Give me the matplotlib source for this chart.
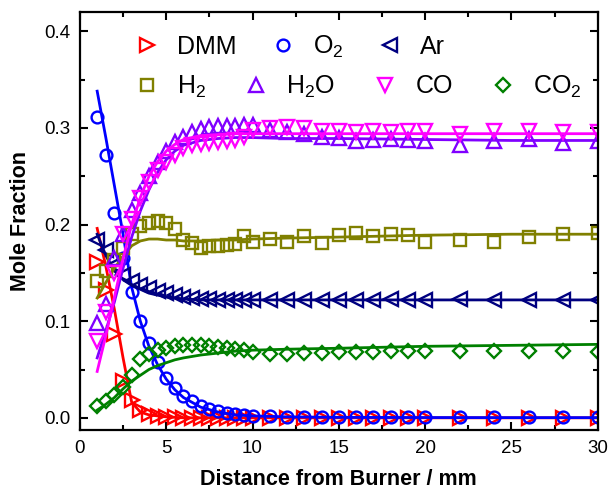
import matplotlib
matplotlib.use('Agg')
import matplotlib.pyplot as plt
from matplotlib.ticker import MultipleLocator

plt.rcParams['font.family'] = ['Liberation Sans', 'DejaVu Sans']
plt.rcParams['mathtext.default'] = 'regular'

# measured points (distance in mm)
x_exp = [1, 1.5, 2, 2.5, 3, 3.5, 4, 4.5, 5, 5.5, 6, 6.5, 7, 7.5, 8, 8.5, 9, 9.5, 10,
         11, 12, 13, 14, 15, 16, 17, 18, 19, 20, 22, 24, 26, 28, 30]
dmm = [0.161, 0.132, 0.087, 0.038, 0.018, 0.008, 0.004, 0.002, 0.001, 0.001, 0.0, 0.0, 0.0, 0.0,
       0.0, 0.0, 0.0, 0.0, 0.0, 0.0, 0.0, 0.0, 0.0, 0.0, 0.0, 0.0, 0.0, 0.0, 0.0,
       0.0, 0.0, 0.0, 0.0, 0.0]
o2 = [0.311, 0.272, 0.212, 0.165, 0.130, 0.100, 0.077, 0.058, 0.041, 0.031, 0.023, 0.017,
      0.012, 0.009, 0.007, 0.005, 0.004, 0.003, 0.002, 0.002, 0.001, 0.001, 0.001, 0.001,
      0.001, 0.001, 0.001, 0.001, 0.001, 0.001, 0.001, 0.001, 0.001, 0.001]
ar = [0.184, 0.174, 0.158, 0.148, 0.142, 0.137, 0.134, 0.131, 0.129, 0.127, 0.125, 0.124,
      0.123, 0.123, 0.122, 0.122, 0.122, 0.122, 0.122, 0.122, 0.122, 0.122, 0.122, 0.122,
      0.122, 0.122, 0.123, 0.122, 0.122, 0.123, 0.122, 0.122, 0.122, 0.122]
h2 = [0.142, 0.152, 0.163, 0.176, 0.190, 0.198, 0.202, 0.204, 0.202, 0.195, 0.184, 0.181,
      0.176, 0.178, 0.178, 0.179, 0.180, 0.188, 0.182, 0.185, 0.182, 0.188, 0.181, 0.189,
      0.191, 0.188, 0.190, 0.189, 0.182, 0.184, 0.182, 0.187, 0.190, 0.191]
h2o = [0.098, 0.118, 0.165, 0.190, 0.215, 0.233, 0.250, 0.265, 0.276, 0.285, 0.291, 0.296,
       0.299, 0.301, 0.302, 0.302, 0.302, 0.303, 0.303, 0.298, 0.296, 0.294, 0.291, 0.290,
       0.286, 0.287, 0.288, 0.287, 0.286, 0.282, 0.286, 0.288, 0.284, 0.286]
co = [0.079, 0.110, 0.150, 0.190, 0.206, 0.227, 0.244, 0.256, 0.265, 0.272, 0.279, 0.282,
      0.283, 0.284, 0.285, 0.286, 0.287, 0.291, 0.298, 0.300, 0.301, 0.300, 0.297, 0.297,
      0.296, 0.297, 0.296, 0.297, 0.297, 0.294, 0.297, 0.297, 0.296, 0.296]
co2 = [0.012, 0.017, 0.024, 0.032, 0.044, 0.061, 0.066, 0.070, 0.072, 0.074, 0.075, 0.075,
       0.075, 0.074, 0.073, 0.072, 0.071, 0.070, 0.068, 0.066, 0.066, 0.067, 0.067, 0.068,
       0.068, 0.068, 0.069, 0.069, 0.069, 0.069, 0.069, 0.069, 0.069, 0.068]

# model curves
x_mod = [1, 1.5, 2, 2.5, 3, 3.5, 4, 4.5, 5, 5.5, 6, 7, 8, 9, 10, 12, 15, 20, 25, 30]
dmm_mod = [0.196, 0.157, 0.112, 0.062, 0.016, 0.006, 0.003, 0.002, 0.001, 0.0005, 0.0,
           0.0, 0.0, 0.0, 0.0, 0.0, 0.0, 0.0, 0.0, 0.0]
o2_mod = [0.338, 0.290, 0.240, 0.190, 0.135, 0.100, 0.074, 0.055, 0.040, 0.029, 0.021,
          0.011, 0.006, 0.003, 0.002, 0.001, 0.0005, 0.0003, 0.0002, 0.0002]
ar_mod = [0.190, 0.168, 0.152, 0.143, 0.137, 0.133, 0.129, 0.127, 0.125, 0.124, 0.123,
          0.122, 0.122, 0.122, 0.122, 0.122, 0.122, 0.122, 0.122, 0.122]
h2_mod = [0.124, 0.140, 0.155, 0.167, 0.178, 0.183, 0.185, 0.185, 0.184, 0.184, 0.183,
          0.183, 0.184, 0.184, 0.185, 0.186, 0.187, 0.189, 0.190, 0.190]
h2o_mod = [0.062, 0.090, 0.120, 0.155, 0.187, 0.214, 0.236, 0.254, 0.267, 0.276, 0.282,
           0.287, 0.289, 0.290, 0.290, 0.289, 0.289, 0.288, 0.287, 0.287]
co_mod = [0.048, 0.085, 0.125, 0.165, 0.200, 0.228, 0.250, 0.265, 0.276, 0.283, 0.288,
          0.292, 0.293, 0.294, 0.294, 0.294, 0.294, 0.294, 0.294, 0.294]
co2_mod = [0.008, 0.014, 0.021, 0.030, 0.038, 0.044, 0.050, 0.054, 0.057, 0.060, 0.062,
           0.065, 0.067, 0.069, 0.070, 0.071, 0.072, 0.074, 0.075, 0.076]

species = [
    ('DMM', dmm, dmm_mod, '#FF0000', '>', 9.5),
    ('O$_2$', o2, o2_mod, '#0000FF', 'o', 8.5),
    ('Ar', ar, ar_mod, '#000080', '<', 9.5),
    ('H$_2$', h2, h2_mod, '#808000', 's', 8),
    ('H$_2$O', h2o, h2o_mod, '#8000FF', '^', 9.5),
    ('CO', co, co_mod, '#FF00FF', 'v', 9.5),
    ('CO$_2$', co2, co2_mod, '#008000', 'D', 7.5),
]

fig = plt.figure(figsize=(6.1, 4.97), dpi=100)
ax = fig.add_axes([0.131, 0.135, 0.849, 0.841])

handles = []
for name, ye, ym, c, m, ms in species:
    h, = ax.plot(x_exp, ye, linestyle='none', marker=m, ms=ms, mfc='none', mec=c,
                 mew=1.7, label=name)
    ax.plot(x_mod, ym, color=c, lw=2)
    handles.append(h)

ax.set_xlim(0, 30)
ax.set_ylim(-0.0125, 0.42)
ax.xaxis.set_major_locator(MultipleLocator(5))
ax.xaxis.set_minor_locator(MultipleLocator(2.5))
ax.yaxis.set_major_locator(MultipleLocator(0.1))
ax.yaxis.set_minor_locator(MultipleLocator(0.05))
ax.tick_params(which='both', direction='in', top=True, right=True, width=1.5,
               labelsize=13.5, pad=7)
ax.tick_params(which='major', length=6)
ax.tick_params(which='minor', length=3.5)
for s in ax.spines.values():
    s.set_linewidth(1.6)

ax.set_xlabel('Distance from Burner / mm', fontsize=15.5, fontweight='bold', labelpad=9)
ax.set_ylabel('Mole Fraction', fontsize=15.5, fontweight='bold', labelpad=9)

leg1 = ax.legend(handles=handles[:3], ncol=3, loc='upper left', bbox_to_anchor=(0.067, 0.99),
                 frameon=False, fontsize=18, handletextpad=0.6, columnspacing=1.25,
                 handlelength=1.2, borderaxespad=0.3)
ax.add_artist(leg1)
ax.legend(handles=handles[3:], ncol=4, loc='upper left', bbox_to_anchor=(0.067, 0.895),
          frameon=False, fontsize=18, handletextpad=0.6, columnspacing=1.4,
          handlelength=1.2, borderaxespad=0.3)

fig.savefig('out.png', dpi=100)
